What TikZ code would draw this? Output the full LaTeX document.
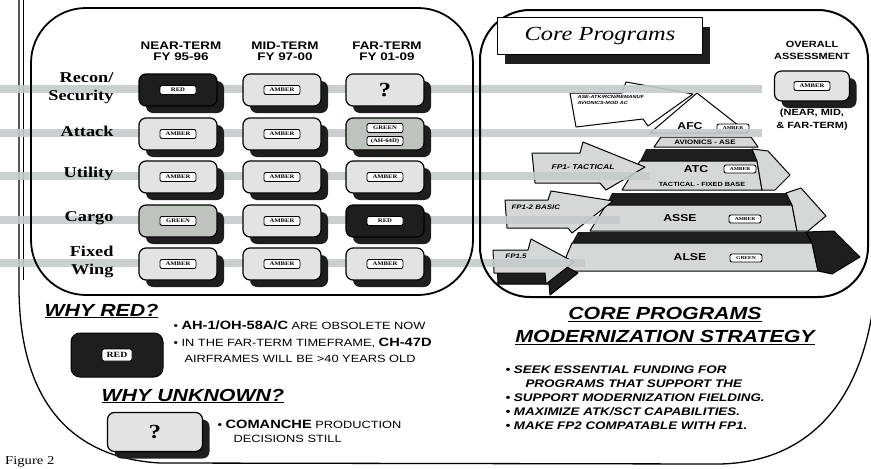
\documentclass[tikz,border=0pt]{standalone}
\usepackage{fontspec}
\setmainfont{Liberation Serif}[FakeStretch=1.22]
\setsansfont{Liberation Sans}[FakeStretch=1.22]
\usetikzlibrary{shadows}
\definecolor{scandark}{HTML}{1E1E1E}
\definecolor{cellgray}{HTML}{E3E3E3}
\definecolor{cellgreen}{HTML}{BEC3BE}
\definecolor{bargray}{HTML}{C5CACA}
\definecolor{pyrgray}{HTML}{D6D8D8}

\begin{document}
\begin{tikzpicture}[
    x=1pt, y=-1pt,
    line join=round,
    cell/.style={draw, line width=1.2pt, rounded corners=7pt, minimum width=78pt,
      minimum height=32pt, fill=cellgray,
      general shadow={fill=scandark, shadow xshift=7pt, shadow yshift=-7pt}},
    status/.style={draw, line width=0.9pt, rounded corners=2pt, fill=white, inner sep=1.2pt,
      minimum width=36pt, minimum height=9pt, font=\rmfamily\bfseries\fontsize{5.5}{5.5}\selectfont},
    pyrstatus/.style={status, minimum width=32pt, minimum height=8pt,
      font=\rmfamily\bfseries\fontsize{4.5}{4.5}\selectfont},
    amberbox/.style={label={[status]center:AMBER}},
    greenbox/.style={fill=cellgreen, label={[status]center:GREEN}},
    redbox/.style={fill=scandark, label={[status]center:RED}},
    unknownbox/.style={label={[font=\rmfamily\bfseries\fontsize{20}{20}\selectfont]center:?}},
    bar/.style={line width=8pt, draw=bargray, opacity=0.9},
    panel/.style={line width=1.8pt},
    tier/.style={draw, line width=1pt, fill=pyrgray},
    blockarrow/.style={draw, line width=1pt, fill=pyrgray},
    tiertext/.style={font=\sffamily\bfseries\fontsize{10}{10}\selectfont},
    arrowtext/.style={font=\sffamily\bfseries\itshape\fontsize{6.5}{6.5}\selectfont, align=left},
    header/.style={font=\sffamily\bfseries\fontsize{11}{11}\selectfont, align=center},
    rowlabel/.style={font=\rmfamily\bfseries\fontsize{15}{18}\selectfont, align=right, anchor=east},
    whytitle/.style={font=\sffamily\bfseries\itshape\fontsize{17.5}{17.5}\selectfont, anchor=west}
  ]
  \useasboundingbox (0,0) rectangle (871,469);

  % outer frame
  \draw[line width=1.3pt] (19,-2) -- (19,290) .. controls (20,400) and (70,458) .. (160,463)
    -- (720,464) .. controls (810,462) and (862,400) .. (874,300);
  \draw[line width=1pt] (23,-2) -- (23,280);

  % pyramid of core programs
  \fill[scandark] (578,232) -- (806,232) -- (812,243) -- (572,243) -- cycle;
  \filldraw[tier] (572,243) -- (812,243) -- (818,271) -- (560,271) -- cycle;
  \filldraw[tier, fill=scandark] (806,232) -- (834,231) -- (860,257) -- (832,274) -- (818,271) -- (812,243) -- cycle;
  \fill[scandark] (612,193) -- (786,193) -- (792,205) -- (606,205) -- cycle;
  \filldraw[tier] (606,205) -- (792,205) -- (797,231) -- (590,231) -- cycle;
  \filldraw[tier] (786,193) -- (801,188) -- (826,216) -- (808,231) -- (797,231) -- (792,205) -- cycle;
  \fill[scandark] (646,149) -- (752,149) -- (757,161) -- (640,161) -- cycle;
  \filldraw[tier] (640,161) -- (757,161) -- (762,190) -- (622,190) -- cycle;
  \filldraw[tier] (752,149) -- (768,151) -- (790,175) -- (775,190) -- (762,190) -- (757,161) -- cycle;
  \filldraw[tier, fill=white] (697,93) -- (748,133) -- (650,133) -- cycle;
  \filldraw[tier] (654,147) -- (661,137) -- (751,137) -- (758,147) -- cycle;

  % feeder arrows
  \filldraw[blockarrow, fill=white] (570,93) -- (622,93) -- (626,82) -- (693,94) -- (648,126)
    -- (643,119) -- (576,127) -- cycle;
  \filldraw[blockarrow] (532,153) -- (580,153) -- (583,142) -- (645,167) -- (606,190)
    -- (600,183) -- (535,183) -- cycle;
  \filldraw[blockarrow] (505,200) -- (548,200) -- (551,191) -- (613,201) -- (572,233)
    -- (568,228) -- (507,228) -- cycle;
  \filldraw[blockarrow, fill=scandark, shift={(4,11)}] (493,250) -- (528,250) -- (531,239)
    -- (574,262) -- (546,284) -- (545,273) -- (494,273) -- cycle;
  \filldraw[blockarrow] (493,250) -- (528,250) -- (531,239) -- (574,262) -- (546,284)
    -- (545,273) -- (494,273) -- cycle;

  \node[arrowtext, anchor=west, font=\sffamily\bfseries\itshape\fontsize{4.5}{6}\selectfont]
    (ase-arrow) at (574,100) {ASE-ATK/RCN/REMANUF\\AVIONICS-MOD AC};
  \node[arrowtext, font=\sffamily\bfseries\itshape\fontsize{7}{7}\selectfont] (fp1-tac) at (583,167) {FP1- TACTICAL};
  \node[arrowtext, anchor=west] (fp12) at (508,207) {FP1-2 BASIC};
  \node[arrowtext] (fp15) at (516,256) {FP1.5};

  \node[tiertext] (afc) at (690,126) {AFC};
  \node[pyrstatus] (afc-st) at (733,128) {AMBER};
  \node[font=\sffamily\bfseries\fontsize{6.5}{6.5}\selectfont] (avionics) at (705,142) {AVIONICS - ASE};
  \node[tiertext] (atc) at (696,169) {ATC};
  \node[pyrstatus] (atc-st) at (740,169) {AMBER};
  \node[font=\sffamily\bfseries\fontsize{6}{6}\selectfont] (tac-base) at (702,184) {TACTICAL - FIXED BASE};
  \node[tiertext] (asse) at (680,218) {ASSE};
  \node[pyrstatus] (asse-st) at (745,219) {AMBER};
  \node[tiertext] (alse) at (690,257) {ALSE};
  \node[pyrstatus] (alse-st) at (746,258) {GREEN};

  % row bars
  \foreach \yy/\xe in {89/762, 133/762, 176/650, 220/620, 263/585}
    \draw[bar] (0,\yy) -- (\xe,\yy);

  % panels
  \draw[panel, rounded corners=55pt] (31,8) rectangle (473,295);
  \draw[panel, line width=2pt, rounded corners=50pt] (480,10) rectangle (868,297);

  % assessment table
  \node[header] (hd-near) at (181,51) {NEAR-TERM\\FY 95-96};
  \node[header] (hd-mid) at (285,51) {MID-TERM\\FY 97-00};
  \node[header] (hd-far) at (387,51) {FAR-TERM\\FY 01-09};

  \node[rowlabel] (lb-recon) at (117,88) {Recon/\\Security};
  \node[rowlabel] (lb-attack) at (117,131) {Attack};
  \node[rowlabel] (lb-utility) at (117,174) {Utility};
  \node[rowlabel] (lb-cargo) at (117,218) {Cargo};
  \node[rowlabel] (lb-fixed) at (117,262) {Fixed\\Wing};

  \node[cell, redbox] (near-recon) at (178,90) {};
  \node[cell, amberbox] (mid-recon) at (282,90) {};
  \node[cell, unknownbox] (far-recon) at (385,90) {};
  \node[cell, amberbox] (near-attack) at (178,134) {};
  \node[cell, amberbox] (mid-attack) at (282,134) {};
  \node[cell, fill=cellgreen, label={[status, yshift=6pt]center:GREEN},
    label={[status, yshift=-7pt]center:{(AH-64D)}}] (far-attack) at (385,134) {};
  \node[cell, amberbox] (near-utility) at (178,177) {};
  \node[cell, amberbox] (mid-utility) at (282,177) {};
  \node[cell, amberbox] (far-utility) at (385,177) {};
  \node[cell, greenbox] (near-cargo) at (178,221) {};
  \node[cell, amberbox] (mid-cargo) at (282,221) {};
  \node[cell, redbox] (far-cargo) at (385,221) {};
  \node[cell, amberbox] (near-fixed) at (178,264) {};
  \node[cell, amberbox] (mid-fixed) at (282,264) {};
  \node[cell, amberbox] (far-fixed) at (385,264) {};

  % core programs panel
  \node[draw, fill=white, line width=1pt, minimum width=205pt, minimum height=37pt,
    general shadow={fill=scandark, shadow xshift=7pt, shadow yshift=-9pt},
    font=\rmfamily\itshape\fontsize{20}{20}\selectfont] (core) at (600,36) {Core Programs};
  \node[font=\sffamily\bfseries\fontsize{9}{12}\selectfont, align=center] (ov-title) at (812,50)
    {OVERALL\\ASSESSMENT};
  \node[cell, minimum width=75pt, minimum height=30pt, amberbox] (ov-box) at (812,86) {};
  \node[font=\sffamily\bfseries\fontsize{9}{13}\selectfont, align=center] (ov-terms) at (812,120)
    {(NEAR, MID,\\\& FAR-TERM)};

  % why red / why unknown
  \node[whytitle] (why-red) at (41,311) {\underline{WHY RED?}};
  \node[draw, fill=scandark, line width=1pt, rounded corners=9pt, minimum width=92pt,
    minimum height=44pt, label={[status, font=\rmfamily\bfseries\fontsize{8}{8}\selectfont,
    minimum width=30pt, minimum height=12pt]center:RED}] (red-key) at (117,355) {};
  \node[anchor=west, align=left, font=\sffamily\fontsize{10.5}{16.5}\selectfont] (red-note) at (170,342)
    {\textbullet\ {\bfseries\fontsize{12}{12}\selectfont AH-1/OH-58A/C} ARE OBSOLETE NOW\\
     \textbullet\ IN THE FAR-TERM TIMEFRAME, {\bfseries\fontsize{12}{12}\selectfont CH-47D}\\
     \hspace*{11pt}AIRFRAMES WILL BE >40 YEARS OLD};

  \node[whytitle] (why-unknown) at (98,396) {\underline{WHY UNKNOWN?}};
  \node[cell, minimum width=95pt, minimum height=39pt, unknownbox] (unknown-key) at (155,432) {};
  \node[anchor=west, align=left, font=\sffamily\fontsize{10.5}{14}\selectfont] (unknown-note) at (214,431)
    {\textbullet\ {\bfseries\fontsize{12}{12}\selectfont COMANCHE} PRODUCTION\\
     \hspace*{16pt}DECISIONS STILL};

  % strategy
  \node[font=\sffamily\bfseries\itshape\fontsize{17.5}{23}\selectfont, align=center] (strategy) at (665,326)
    {\underline{CORE PROGRAMS}\\\underline{MODERNIZATION STRATEGY}};
  \node[anchor=north west, align=left, font=\sffamily\bfseries\itshape\fontsize{11}{14}\selectfont]
    (strategy-list) at (502,362)
    {\textbullet\ SEEK ESSENTIAL FUNDING FOR\\
     \hspace*{20pt}PROGRAMS THAT SUPPORT THE\\
     \textbullet\ SUPPORT MODERNIZATION FIELDING.\\
     \textbullet\ MAXIMIZE ATK/SCT CAPABILITIES.\\
     \textbullet\ MAKE FP2 COMPATABLE WITH FP1.};

  \node[anchor=south west, inner sep=0pt, font=\rmfamily\fontsize{12}{12}\selectfont] (fig-cap) at (5,467)
    {Figure 2};
\end{tikzpicture}
\end{document}
